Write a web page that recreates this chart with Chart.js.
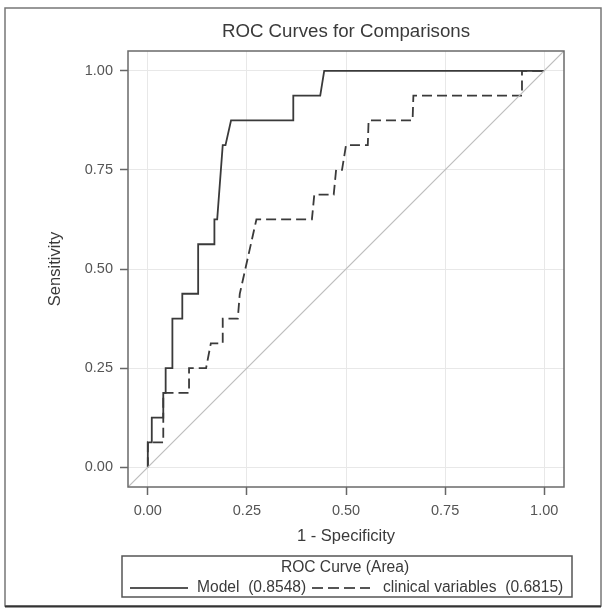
<!DOCTYPE html>
<html>
<head>
<meta charset="utf-8">
<title>ROC Curves for Comparisons</title>
<script src="https://cdn.jsdelivr.net/npm/chart.js@4/dist/chart.umd.min.js"></script>
<style>
    html, body { margin: 0; padding: 0; background: #fff; }
    #wrap { width: 604px; height: 611px; }
</style>
</head>
<body>
<div id="wrap"><canvas id="roc" width="604" height="611"></canvas></div>
<script>
// DATA

const modelFpr = [0, 0, 0.01, 0.01, 0.039, 0.039, 0.045, 0.045, 0.062, 0.062, 0.087, 0.087, 0.127, 0.127,
    0.168, 0.168, 0.175, 0.189, 0.196, 0.21, 0.367, 0.367, 0.435, 0.445, 1];
const modelTpr = [0, 0.0625, 0.0625, 0.125, 0.125, 0.1875, 0.1875, 0.25, 0.25, 0.375, 0.375, 0.4375, 0.4375, 0.5625,
    0.5625, 0.625, 0.625, 0.8125, 0.8125, 0.875, 0.875, 0.9375, 0.9375, 1, 1];

const clinFpr = [0, 0, 0.039, 0.039, 0.104, 0.104, 0.147, 0.159, 0.189, 0.189, 0.227, 0.232, 0.274, 0.414,
    0.42, 0.469, 0.475, 0.49, 0.5, 0.555, 0.557, 0.668, 0.67, 0.944, 0.944, 1];
const clinTpr = [0, 0.0625, 0.0625, 0.1875, 0.1875, 0.25, 0.25, 0.3125, 0.3125, 0.375, 0.375, 0.4375, 0.625, 0.625,
    0.6875, 0.6875, 0.75, 0.75, 0.8125, 0.8125, 0.875, 0.875, 0.9375, 0.9375, 1, 1];

const diagX = [-0.05, 1.05];
const diagY = [-0.05, 1.05];

const xTicks = [0, 0.25, 0.5, 0.75, 1];
const yTicks = [0, 0.25, 0.5, 0.75, 1];

const seriesNames = ['Model', 'clinical variables'];
const seriesArea = ['0.8548', '0.6815'];


// HELPERS

const FONT = '"Liberation Sans", Arial, sans-serif';
const pts = (xs, ys) => xs.map((x, i) => ({ x, y: ys[i] }));
const fixTicks = (vals) => (scale) => { scale.ticks = vals.map(v => ({ value: v })); };


// DECORATION PLUGIN (title, plot box, legend, frame)

const decor = {
    id: 'decor',
    afterDraw(chart) {
        const { ctx, chartArea: a } = chart;
        ctx.save();

        // plot box
        ctx.strokeStyle = '#6a6a6a';
        ctx.lineWidth = 1.5;
        ctx.strokeRect(a.left, a.top, a.right - a.left, a.bottom - a.top);

        // title
        ctx.fillStyle = '#3a3a3a';
        ctx.font = `18.7px ${FONT}`;
        ctx.textAlign = 'center';
        ctx.textBaseline = 'middle';
        ctx.fillText('ROC Curves for Comparisons', (a.left + a.right) / 2, 32);

        // legend box
        ctx.strokeStyle = '#555';
        ctx.lineWidth = 1.5;
        ctx.strokeRect(122, 556, 450, 41);
        ctx.font = `15.6px ${FONT}`;
        ctx.fillStyle = '#3a3a3a';
        ctx.fillText('ROC Curve (Area)', 345, 568);

        ctx.textAlign = 'left';
        ctx.strokeStyle = '#555';
        ctx.lineWidth = 2;
        ctx.beginPath(); ctx.moveTo(130, 588); ctx.lineTo(188, 588); ctx.stroke();
        ctx.fillText(`${seriesNames[0]}  (${seriesArea[0]})`, 197, 588);

        ctx.setLineDash([11, 5]);
        ctx.beginPath(); ctx.moveTo(312, 588); ctx.lineTo(370, 588); ctx.stroke();
        ctx.setLineDash([]);
        ctx.fillText(`${seriesNames[1]}  (${seriesArea[1]})`, 383, 588);

        // outer frame
        ctx.strokeStyle = '#777';
        ctx.lineWidth = 1.5;
        ctx.strokeRect(5, 8, 596, 598);
        ctx.strokeStyle = '#333';
        ctx.lineWidth = 2;
        ctx.beginPath(); ctx.moveTo(5, 606.5); ctx.lineTo(601, 606.5); ctx.stroke();

        ctx.restore();
    }
};


// CHART

const lineDs = (label, data, color, width, dash = []) => ({
    label, data,
    showLine: true,
    borderColor: color,
    borderWidth: width,
    borderDash: dash,
    pointRadius: 0,
    pointHoverRadius: 0,
    tension: 0,
    fill: false
});

const axisCommon = (vals, title, titlePad) => ({
    type: 'linear',
    min: -0.05,
    max: 1.05,
    afterBuildTicks: fixTicks(vals),
    border: { display: false },
    grid: { color: '#e8e8e8', lineWidth: 1, tickColor: '#666', tickLength: 8, tickWidth: 1.5 },
    ticks: {
        padding: 7,
        color: '#555',
        font: { family: FONT, size: 14.5 },
        callback: v => Number(v).toFixed(2)
    },
    title: { display: true, text: title, color: '#3a3a3a', font: { family: FONT, size: 16.5 }, padding: titlePad }
});

const xAxis = axisCommon(xTicks, '1 - Specificity', { top: 0, bottom: 1 });
xAxis.afterFit = (s) => { s.height = 60; };
const yAxis = axisCommon(yTicks, 'Sensitivity', { top: 6, bottom: 0 });
yAxis.afterFit = (s) => { s.width = 88; };

new Chart(document.getElementById('roc'), {
    type: 'scatter',
    data: {
        datasets: [
            lineDs('diag', pts(diagX, diagY), '#bdbdbd', 1.2),
            lineDs(seriesNames[1], pts(clinFpr, clinTpr), '#3a3a3a', 1.8, [10, 5]),
            lineDs(seriesNames[0], pts(modelFpr, modelTpr), '#3a3a3a', 1.8)
        ]
    },
    options: {
        responsive: false,
        animation: false,
        layout: { padding: { left: 40, right: 40, top: 51, bottom: 64 } },
        plugins: {
            legend: { display: false },
            title: { display: false },
            tooltip: { enabled: false }
        },
        scales: { x: xAxis, y: yAxis }
    },
    plugins: [decor]
});
</script>
</body>
</html>
